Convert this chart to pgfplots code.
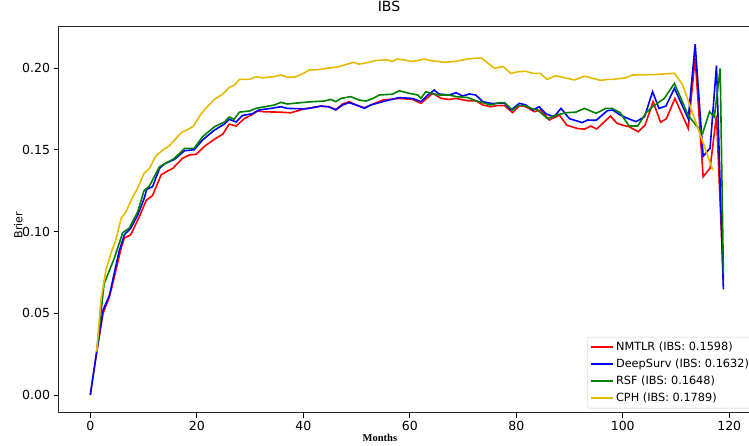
\documentclass[border=0pt]{standalone}
\usepackage{fontspec}
\setmainfont{DejaVu Sans}
\newfontfamily\timesfont{Liberation Serif}
\usepackage{pgfplots}
\pgfplotsset{compat=1.18}
\definecolor{cphgold}{RGB}{228,187,0}
\definecolor{rsfgreen}{RGB}{0,128,0}
\begin{document}
\begin{tikzpicture}
\begin{axis}[
  at={(0,0)}, anchor=south west,
  scale only axis, width=697pt, height=385.7pt,
  xmin=-5.95, xmax=124.95, ymin=-0.0107, ymax=0.2252,
  xtick={0,20,40,60,80,100,120},
  ytick={0,0.05,0.1,0.15,0.2},
  yticklabel style={/pgf/number format/.cd, fixed, fixed zerofill, precision=2},
  /pgf/number format/assume math mode=true,
  tick label style={font=\fontsize{12.5}{14}\selectfont},
  tick align=outside, major tick length=5pt,
  tick style={black, line width=0.8pt},
  xtick pos=lower, ytick pos=left,
  axis line style={black!85, line width=0.8pt},
  title={IBS},
  title style={at={(axis description cs:0.474,1)}, anchor=base, yshift=9.5pt, font=\fontsize{14}{16}\selectfont},
  xlabel={\timesfont\bfseries Months},
  xlabel style={at={(axis description cs:0.461,0)}, anchor=base, yshift=-29pt, font=\fontsize{10.5}{12}\selectfont},
  ylabel={Brier},
  ylabel style={at={(axis description cs:-0.058,0.486)}, anchor=center, font=\fontsize{11}{12}\selectfont},
  legend style={at={(0.7585,0.011)}, anchor=south west, draw=black!20, rounded corners=2pt,
    font=\fontsize{11.3}{13}\selectfont, row sep=2.9pt, inner xsep=3pt, inner ysep=3pt},
  legend cell align=left,
  legend image code/.code={\draw[mark repeat=2,mark phase=2,#1] plot coordinates {(0pt,0pt) (11pt,0pt) (22pt,0pt)};},
]
\addplot[color=red, line width=1.6pt] coordinates {
(0,0) (1.2,0.026) (2.4,0.050) (3.6,0.060) (4.5,0.072) (5.8,0.090) (6.4,0.096) (7.6,0.098)
(9.2,0.109) (10.5,0.119) (11.7,0.122) (13.3,0.1346) (14.5,0.137) (15.5,0.1386) (17.3,0.1447)
(18.6,0.1468) (19.9,0.1472) (21.4,0.152) (23.3,0.1564) (24.9,0.1596) (26.1,0.1657) (27.4,0.1645)
(28.9,0.169) (30.4,0.1715) (31.4,0.1737) (32.7,0.1732) (35.8,0.173) (37.6,0.1726) (40.2,0.175)
(43.3,0.1767) (44.8,0.1763) (46.1,0.1747) (47.4,0.178) (48.6,0.1794) (49.9,0.1774) (51.5,0.1757)
(52.7,0.1774) (54.9,0.1804) (58,0.1814) (60.5,0.1808) (62.1,0.1784) (64.3,0.1845) (65.9,0.1814)
(67.4,0.1808) (68.7,0.1814) (70.8,0.180) (72.4,0.180) (73.7,0.1774) (75.2,0.1763) (76.4,0.177)
(77.8,0.177) (79.3,0.1727) (80.6,0.177) (81.8,0.1763) (83.4,0.1733) (84.6,0.1743) (86.2,0.1682)
(88.1,0.1712) (89.5,0.165) (91.5,0.163) (92.8,0.1626) (94,0.1645) (95.1,0.1627) (97.7,0.1706)
(98.9,0.1662) (100.2,0.1648) (101.2,0.1641) (102.9,0.161) (104.2,0.1651) (105.7,0.1794)
(107.1,0.1668) (108.2,0.169) (109.8,0.1814) (112.3,0.163) (113.6,0.206) (115.1,0.1335)
(116.4,0.1387) (117.6,0.171) (118.9,0.070)
};
\addlegendentry{NMTLR (IBS: 0.1598)}
\addplot[color=blue, line width=1.6pt] coordinates {
(0,0) (1.2,0.0265) (2.4,0.052) (3.6,0.061) (4.5,0.0744) (5.4,0.0877) (6.4,0.098) (7.6,0.102)
(8.9,0.110) (10.1,0.120) (10.6,0.1258) (11.7,0.1274) (13.0,0.1386) (13.9,0.1413) (15.8,0.1441)
(17.7,0.1494) (19.5,0.150) (21.1,0.156) (23.3,0.162) (25.2,0.1657) (26.1,0.1686) (27.4,0.167)
(28.6,0.171) (30.4,0.172) (31.7,0.1743) (33.9,0.1753) (35.8,0.1763) (37,0.1753) (40.2,0.175)
(41.1,0.1753) (43.3,0.1767) (44.8,0.1763) (46.1,0.1743) (47.4,0.1774) (48.6,0.1788) (49.9,0.1774)
(51.5,0.1753) (52.7,0.1774) (54.9,0.1794) (58,0.1819) (60.5,0.1814) (62.1,0.1794) (63.4,0.1835)
(64.6,0.1865) (65.5,0.1841) (67.4,0.1835) (68.7,0.1849) (69.9,0.1829) (71.2,0.1841) (72.4,0.1835)
(73.7,0.1794) (75.2,0.1784) (76.4,0.1784) (77.8,0.1784) (79,0.1743) (80.6,0.1784) (81.8,0.1774)
(83.1,0.1743) (84.3,0.1763) (85.6,0.1719) (87.1,0.1702) (88.4,0.1753) (90,0.169) (92.4,0.1666)
(93.4,0.1682) (95,0.168) (97.1,0.1739) (98.1,0.1743) (99.5,0.1713) (100.9,0.1692) (102.5,0.1672)
(104.1,0.1702) (105.6,0.1855) (106.8,0.1753) (108.1,0.1767) (109.7,0.1876) (112.3,0.169)
(113.6,0.2145) (115.1,0.146) (116.4,0.151) (117.6,0.2014) (118.9,0.0646)
};
\addlegendentry{DeepSurv (IBS: 0.1632)}
\addplot[color=rsfgreen, line width=1.6pt] coordinates {
(1.2,0.0265) (2.6,0.068) (4.5,0.0836) (6.1,0.0993) (7.3,0.102) (8.9,0.112) (10.1,0.125)
(11.1,0.1278) (13.0,0.1396) (13.9,0.1413) (15.8,0.1447) (17.7,0.1508) (19.5,0.1508) (21.1,0.158)
(23.3,0.164) (25.2,0.167) (26.1,0.170) (27,0.1686) (28,0.173) (29.9,0.1737) (31.1,0.1753)
(32.7,0.1763) (34.6,0.1774) (35.8,0.179) (37,0.178) (40.2,0.179) (41.8,0.1794) (43.9,0.1798)
(45.2,0.1808) (46.1,0.1794) (47.1,0.1814) (48.9,0.1825) (50.5,0.1804) (51.8,0.1798) (53.1,0.1814)
(54.3,0.1835) (56.8,0.184) (58,0.1861) (59.9,0.1845) (61.5,0.1835) (62.1,0.1814) (63,0.1855)
(64,0.1845) (65.5,0.1835) (67.4,0.1835) (68.7,0.1825) (70.8,0.182) (72.4,0.180) (75.2,0.1774)
(76.8,0.1788) (77.8,0.1788) (79.3,0.1743) (80.3,0.177) (81.6,0.177) (82.8,0.1753) (84,0.1743)
(85.9,0.169) (87.4,0.1712) (89.6,0.1727) (91.2,0.173) (92.8,0.1753) (95,0.1723) (96.8,0.1753)
(98,0.1753) (99.5,0.1727) (101.2,0.1645) (102.8,0.1645) (104.4,0.1727) (105.6,0.1763)
(107.8,0.1814) (109.7,0.1906) (112.3,0.171) (115.0,0.160) (116.3,0.1733) (117.2,0.170)
(118.3,0.1998) (118.9,0.0744)
};
\addlegendentry{RSF (IBS: 0.1648)}
\addplot[color=cphgold, line width=1.6pt] coordinates {
(1.2,0.0265) (2.0,0.058) (2.95,0.0765) (3.9,0.0867) (4.8,0.0948) (5.8,0.108) (6.7,0.112)
(8.0,0.1213) (8.9,0.1264) (10.1,0.1356) (11.1,0.1386) (12.3,0.1462) (13.6,0.1498) (14.8,0.1523)
(16.4,0.158) (17.3,0.161) (18.5,0.1626) (19.4,0.1646) (20.8,0.1719) (21.7,0.1753) (23.3,0.1808)
(24.9,0.1841) (26.1,0.1881) (27.1,0.1896) (28,0.193) (29.9,0.193) (31.1,0.1947) (32.3,0.194)
(34.6,0.1947) (35.8,0.1957) (37,0.1943) (38.5,0.1945) (40.2,0.197) (41.1,0.1988) (43,0.199)
(44.8,0.200) (46.4,0.2006) (48.3,0.2024) (49.5,0.2035) (50.4,0.2024) (51.7,0.203) (53.6,0.2046)
(55.7,0.205) (56.7,0.204) (57.6,0.2055) (58.9,0.205) (60.2,0.204) (61.4,0.2045) (62.7,0.2055)
(64,0.2045) (66.5,0.2035) (68.4,0.204) (70.8,0.2055) (72.4,0.206) (73.5,0.206) (75.9,0.1998)
(77.5,0.201) (79,0.1967) (80.3,0.1977) (81.8,0.198) (83.1,0.1967) (84.5,0.1967) (85.8,0.193)
(87.4,0.1953) (90.9,0.1927) (92.8,0.195) (95.9,0.1924) (97.1,0.193) (98,0.193) (100.6,0.194)
(101.8,0.1957) (106,0.196) (109.7,0.1968) (111.2,0.190) (116.9,0.1376)
};
\addlegendentry{CPH (IBS: 0.1789)}
\end{axis}
\pgfresetboundingbox
\path[use as bounding box] (-58.6pt,-32.5pt) rectangle (690.4pt,412.5pt);
\end{tikzpicture}
\end{document}
